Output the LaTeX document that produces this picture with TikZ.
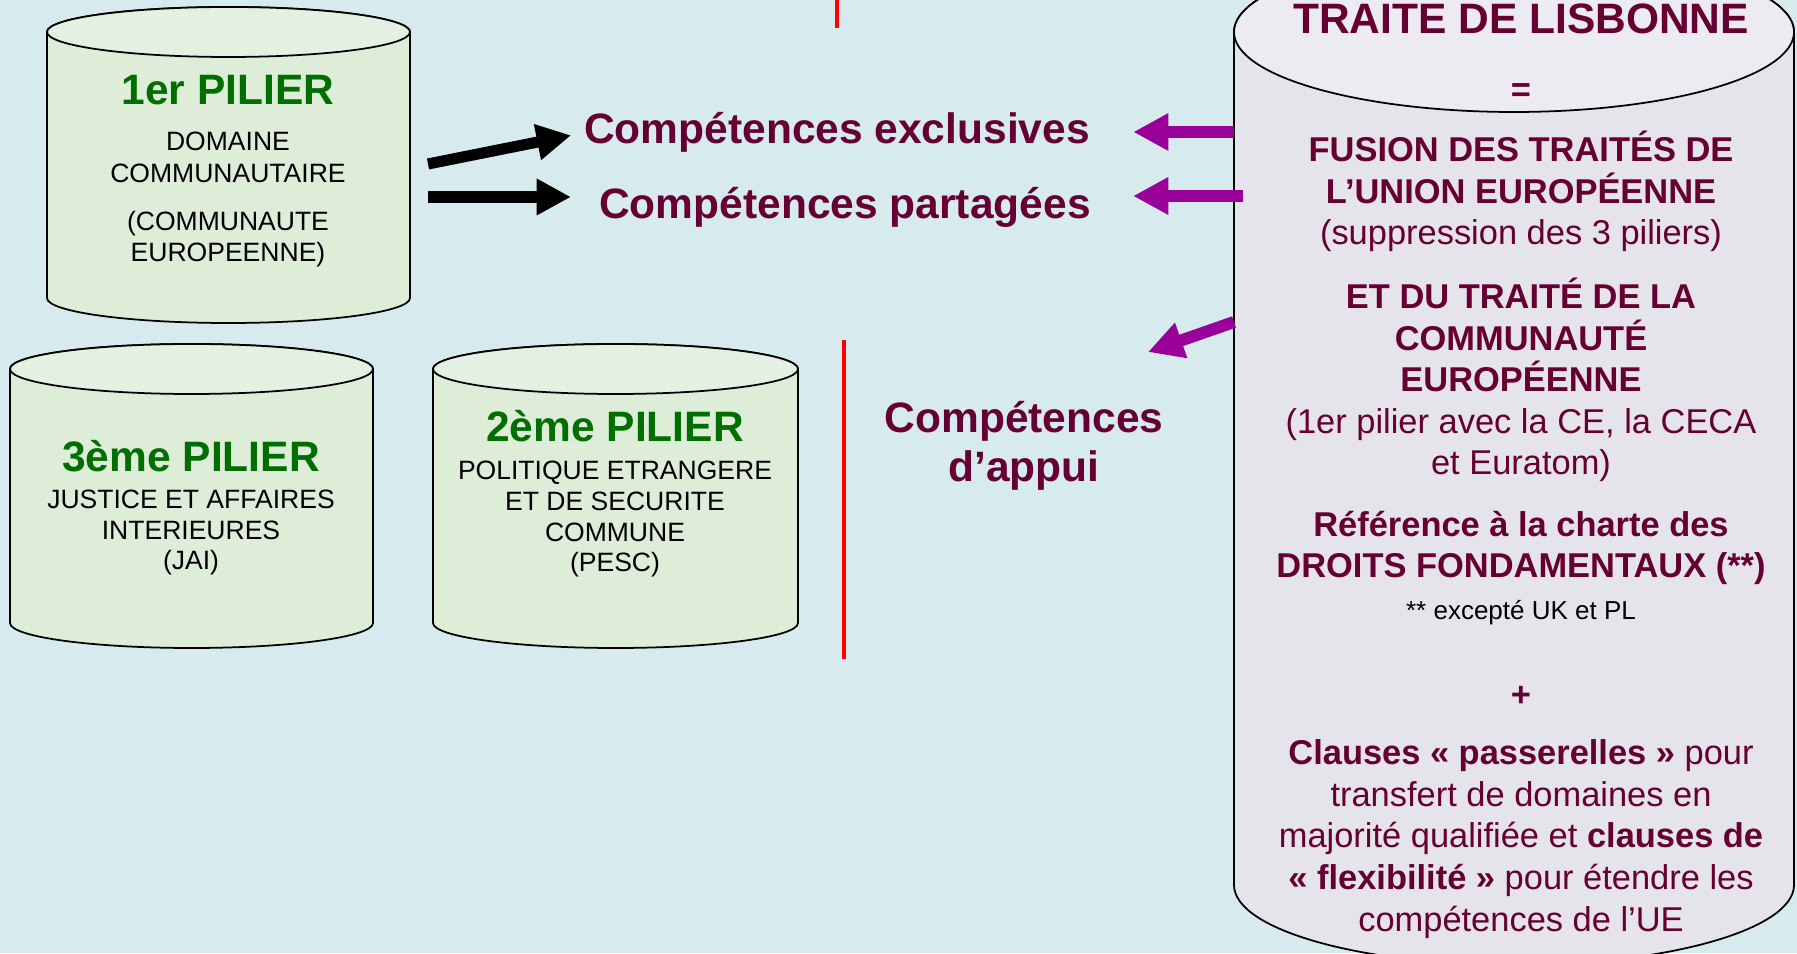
\documentclass[tikz,border=0pt]{standalone}
\usepackage{fontspec}
\setmainfont{Liberation Sans}
\usepackage{xcolor}
\usetikzlibrary{arrows.meta, positioning}

\definecolor{fond}{RGB}{215,235,238}
\definecolor{vertpilier}{RGB}{0,110,0}
\definecolor{bordeaux}{RGB}{102,0,51}
\definecolor{violetfleche}{RGB}{153,0,153}
\definecolor{corpsvert}{RGB}{221,237,216}
\definecolor{capvert}{RGB}{227,240,226}
\definecolor{corpsgris}{RGB}{229,228,235}
\definecolor{capgris}{RGB}{236,235,241}

\tikzset{
  cyl/.style={draw=black, line width=1pt},
  titrepilier/.style={font=\fontsize{24.2}{28.5}\selectfont\bfseries, text=vertpilier, anchor=base, inner sep=0pt},
  corps/.style={font=\fontsize{15.1}{17.6}\selectfont, align=center, anchor=base, inner sep=0pt},
  competence/.style={font=\fontsize{24.2}{28.5}\selectfont\bfseries, text=bordeaux, align=center, anchor=base, inner sep=0pt},
  traite/.style={font=\fontsize{19.6}{23.7}\selectfont\bfseries, text=bordeaux, align=center, anchor=base, inner sep=0pt},
  noire/.style={-{Triangle[length=19.5pt, width=19.5pt]}, line width=6.3pt, black},
  mauve/.style={-{Triangle[length=20pt, width=20pt]}, line width=6.8pt, violetfleche},
  rouge/.style={red, line width=2.8pt}
}

% gauche, droite, y du couvercle, y du fond, demi-axe vertical, couleurs
\newcommand{\cylindre}[7]{%
  \filldraw[cyl, fill=#6] (#1,#3) -- (#1,#4)
    arc[start angle=180, end angle=360, x radius={(#2-#1)/2}, y radius=#5]
    -- (#2,#3)
    arc[start angle=0, end angle=180, x radius={(#2-#1)/2}, y radius=#5] -- cycle;
  \filldraw[cyl, fill=#7] ({(#1+#2)/2},#3) ellipse[x radius={(#2-#1)/2}, y radius=#5];
}

\begin{document}
\begin{tikzpicture}[x=0.02cm, y=0.02cm]
  \useasboundingbox (0,0) rectangle (1797,953);
  \clip (0,0) rectangle (1797,953);
  \fill[fond] (0,0) rectangle (1797,953);

  % les trois piliers et le traite
  \cylindre{47}{410}{921}{655}{25}{corpsvert}{capvert}
  \cylindre{10}{373}{584}{330}{25}{corpsvert}{capvert}
  \cylindre{433}{798}{584}{330}{25}{corpsvert}{capvert}
  \cylindre{1234}{1794}{921}{68}{80}{corpsgris}{capgris}

  \draw[rouge] (837,953) -- (837,925);
  \draw[rouge] (844,613) -- (844,294);

  % (base = ligne du bas)
  \node[titrepilier] (pilier1titre) at (228,848) {1er PILIER};
  \node[corps, font=\fontsize{15.1}{18.2}\selectfont] (pilier1) at (228,691)
    {DOMAINE\\COMMUNAUTAIRE\\[9pt](COMMUNAUTE\\EUROPEENNE)};
  \node[titrepilier] (pilier3titre) at (191,481) {3ème PILIER};
  \node[corps] (pilier3) at (191,383) {JUSTICE ET AFFAIRES\\INTERIEURES\\(JAI)};
  \node[titrepilier] (pilier2titre) at (615,511) {2ème PILIER};
  \node[corps] (pilier2) at (615,381) {POLITIQUE ETRANGERE\\ET DE SECURITE\\COMMUNE\\(PESC)};

  \node[competence] (exclusives) at (837,809) {Compétences exclusives};
  \node[competence] (partagees) at (845,734) {Compétences partagées};
  \node[competence, font=\fontsize{24.2}{28.45}\selectfont\bfseries] (appui) at (1024,471)
    {Compétences\\d’appui};

  \node[competence] (lisbonne) at (1521,919) {TRAITE DE LISBONNE};
  \node[traite] (egal) at (1521,851) {=};
  \node[traite] (fusion) at (1521,708)
    {FUSION DES TRAITÉS DE\\L’UNION EUROPÉENNE\\{\mdseries (suppression des 3 piliers)}};
  \node[traite] (traitece) at (1521,478)
    {ET DU TRAITÉ DE LA\\COMMUNAUTÉ\\EUROPÉENNE\\{\mdseries (1er pilier avec la CE, la CECA}\\{\mdseries et Euratom)}};
  \node[traite] (charte) at (1521,375) {Référence à la charte des\\DROITS FONDAMENTAUX (**)};
  \node[corps, font=\fontsize{14.8}{17.6}\selectfont] (note) at (1521,333) {** excepté UK et PL};
  \node[traite] (plus) at (1521,246) {+};
  \node[traite] (clauses) at (1521,22)
    {Clauses « passerelles » {\mdseries pour}\\{\mdseries transfert de domaines en}\\{\mdseries majorité qualifiée et} clauses de\\« flexibilité » {\mdseries pour étendre les}\\{\mdseries compétences de l’UE}};

  \coordinate (p1a) at (428,789);
  \coordinate (p1b) at (428,756);
  \coordinate (l1) at (1234,821);
  \coordinate (l2) at (1243,757);
  \coordinate (l3) at (1234,631);
  \coordinate (l3fin) at (1148,601);

  \draw[noire, shorten >=7.4pt] (p1a) -- (exclusives.west);
  \draw[noire, shorten >=15.9pt] (p1b) -- (p1b -| partagees.west);
  \draw[mauve, shorten >=24.5pt] (l1) -- (l1 -| exclusives.east);
  \draw[mauve, shorten >=23.9pt] (l2) -- (l2 -| partagees.east);
  \draw[mauve] (l3) -- (l3fin);
\end{tikzpicture}
\end{document}
